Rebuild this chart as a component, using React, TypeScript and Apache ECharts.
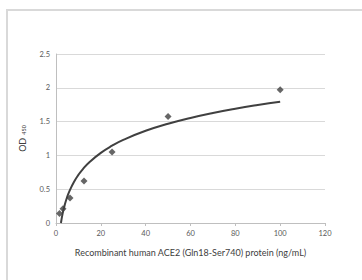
import React, { useEffect, useRef } from "react";
import * as echarts from "echarts";

const concentrations = [1.5625, 3.125, 6.25, 12.5, 25, 50, 100];
const odValues = [0.14, 0.21, 0.37, 0.62, 1.05, 1.575, 1.97];
const fitX = [2.2, 3, 4, 5, 6, 8, 10, 12, 15, 20, 25, 30, 40, 50, 60, 70, 80, 90, 100];
const fitY = [0, 0.146, 0.28, 0.386, 0.472, 0.607, 0.712, 0.798, 0.903, 1.038, 1.143, 1.229, 1.364, 1.469, 1.554, 1.627, 1.69, 1.745, 1.794];
const xTitle = "Recombinant human ACE2 (Gln18-Ser740) protein (ng/mL)";

export default function App() {
  const ref = useRef<HTMLDivElement>(null);
  useEffect(() => {
    if (!ref.current) return;
    const chart = echarts.init(ref.current, null, { renderer: "svg" });
    const font = "Lato";
    chart.setOption({
      animation: false,
      backgroundColor: "#ffffff",
      textStyle: { fontFamily: font },
      graphic: [
        {
          type: "rect",
          shape: { x: 7, y: 10, width: 420, height: 320 },
          style: { fill: "none", stroke: "#d9d9d9", lineWidth: 2 },
          silent: true,
        },
      ],
      grid: { left: 56, right: 37, top: 54, bottom: 57 },
      xAxis: {
        type: "value",
        min: 0,
        max: 120,
        interval: 20,
        name: xTitle,
        nameLocation: "middle",
        nameGap: 25,
        nameTextStyle: { fontSize: 9, color: "#404040", fontFamily: font },
        axisLine: { show: true, lineStyle: { color: "#bfbfbf", width: 1 } },
        axisTick: { show: true, length: 3, lineStyle: { color: "#bfbfbf" } },
        axisLabel: { fontSize: 7.5, color: "#595959", margin: 6, fontFamily: font },
        splitLine: { show: false },
      },
      yAxis: {
        type: "value",
        min: 0,
        max: 2.5,
        interval: 0.5,
        name: "{a|OD} {b|450}",
        nameLocation: "middle",
        nameRotate: 90,
        nameGap: 27,
        nameTextStyle: {
          color: "#404040",
          fontFamily: font,
          rich: {
            a: { fontSize: 9, color: "#404040", fontFamily: font },
            b: { fontSize: 5.5, color: "#404040", fontFamily: font, padding: [3, 0, 0, 0] },
          },
        },
        axisLine: { show: true, lineStyle: { color: "#bfbfbf", width: 1 } },
        axisTick: { show: false },
        axisLabel: { fontSize: 7.5, color: "#595959", margin: 6, fontFamily: font },
        splitLine: { show: true, lineStyle: { color: "#d9d9d9", width: 1 } },
      },
      series: [
        {
          type: "line",
          data: fitX.map((x, i) => [x, fitY[i]]),
          smooth: true,
          showSymbol: false,
          lineStyle: { color: "#404040", width: 2 },
          z: 2,
        },
        {
          type: "scatter",
          data: concentrations.map((x, i) => [x, odValues[i]]),
          symbol: "diamond",
          symbolSize: 7,
          itemStyle: { color: "#404040" },
          z: 3,
        },
      ],
    });
    return () => chart.dispose();
  }, []);
  return (
    <div
      ref={ref}
      style={{ position: "fixed", left: 0, top: 0, width: 362, height: 280, background: "#fff" }}
    />
  );
}
